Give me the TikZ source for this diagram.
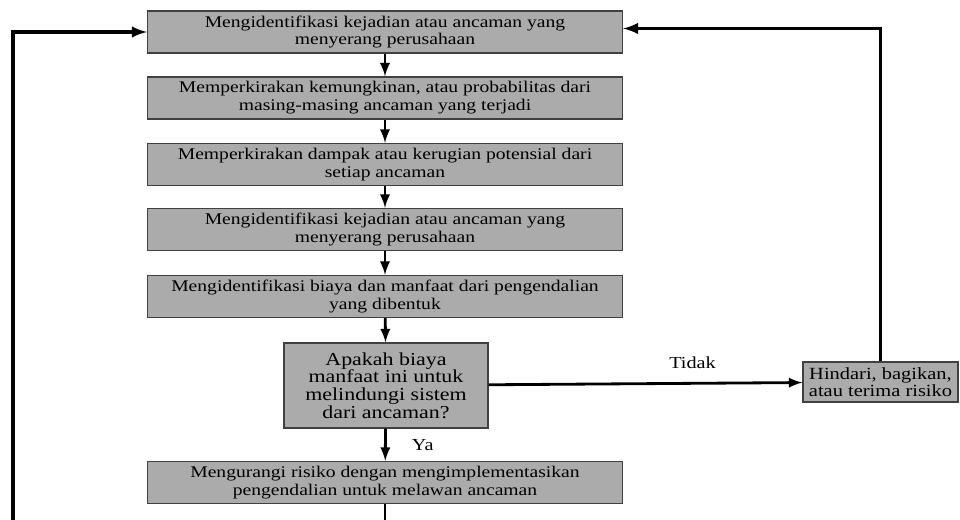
\documentclass[tikz,border=0pt]{standalone}
\usepackage{fontspec}
\setmainfont[FakeStretch=1.2]{Liberation Serif}
\begin{document}
\begin{tikzpicture}[x=0.02cm, y=-0.02cm, >=latex,
    every node/.style={font=\fontsize{9.3}{10.2}\selectfont},
    langkah/.style={draw=black!75, line width=0.8pt, fill=black!33,
      minimum width=9.5cm, minimum height=0.84cm, align=center, inner sep=0pt},
    panah/.style={->, line width=1.6pt}]
    \useasboundingbox (0,0) rectangle (960,520);
    % langkah-langkah
    \node[langkah] (m1) at (385,32)
      {Mengidentifikasi kejadian atau ancaman yang\\menyerang perusahaan};
    \node[langkah] (m2) at (385,98)
      {Memperkirakan kemungkinan, atau probabilitas dari\\masing-masing ancaman yang terjadi};
    \node[langkah] (m3) at (385,164.5)
      {Memperkirakan dampak atau kerugian potensial dari\\setiap ancaman};
    \node[langkah] (m4) at (385,229.5)
      {Mengidentifikasi kejadian atau ancaman yang\\menyerang perusahaan};
    \node[langkah] (m5) at (385,296.5)
      {Mengidentifikasi biaya dan manfaat dari pengendalian\\yang dibentuk};
    \node[langkah, minimum width=4.08cm, minimum height=1.7cm,
      font=\fontsize{10.4}{10}\selectfont] (tanya) at (386,385.5)
      {Apakah biaya\\manfaat ini untuk\\melindungi sistem\\dari ancaman?};
    \node[langkah] (m7) at (385,482.5)
      {Mengurangi risiko dengan mengimplementasikan\\pengendalian untuk melawan ancaman};
    \node[langkah, minimum width=3.1cm, minimum height=0.8cm,
      font=\fontsize{9.7}{9.7}\selectfont] (hindar) at (880.5,382)
      {Hindari, bagikan,\\atau terima risiko};
    \coordinate (kiri) at (13,520);
    \coordinate (bawah) at (385,520);
    % panah
    \draw[panah] (m1) -- (m2);
    \draw[panah] (m2) -- (m3);
    \draw[panah] (m3) -- (m4);
    \draw[panah] (m4) -- (m5);
    \draw[panah] (m5) -- (tanya);
    \draw[panah] (tanya) -- node[right, xshift=11pt, font=\fontsize{9.6}{10}\selectfont] {Ya} (m7);
    \draw[panah] (tanya) -- node[above, pos=0.65, yshift=4pt, font=\fontsize{9.6}{10}\selectfont] {Tidak} (hindar);
    \draw[line width=1.6pt] (m7) -- (bawah);
    \draw[panah, line width=1.9pt] (hindar.north) |- ([yshift=2pt]m1.east);
    \draw[panah, line width=1.9pt] (kiri) |- (m1.west);
  \end{tikzpicture}
\end{document}
